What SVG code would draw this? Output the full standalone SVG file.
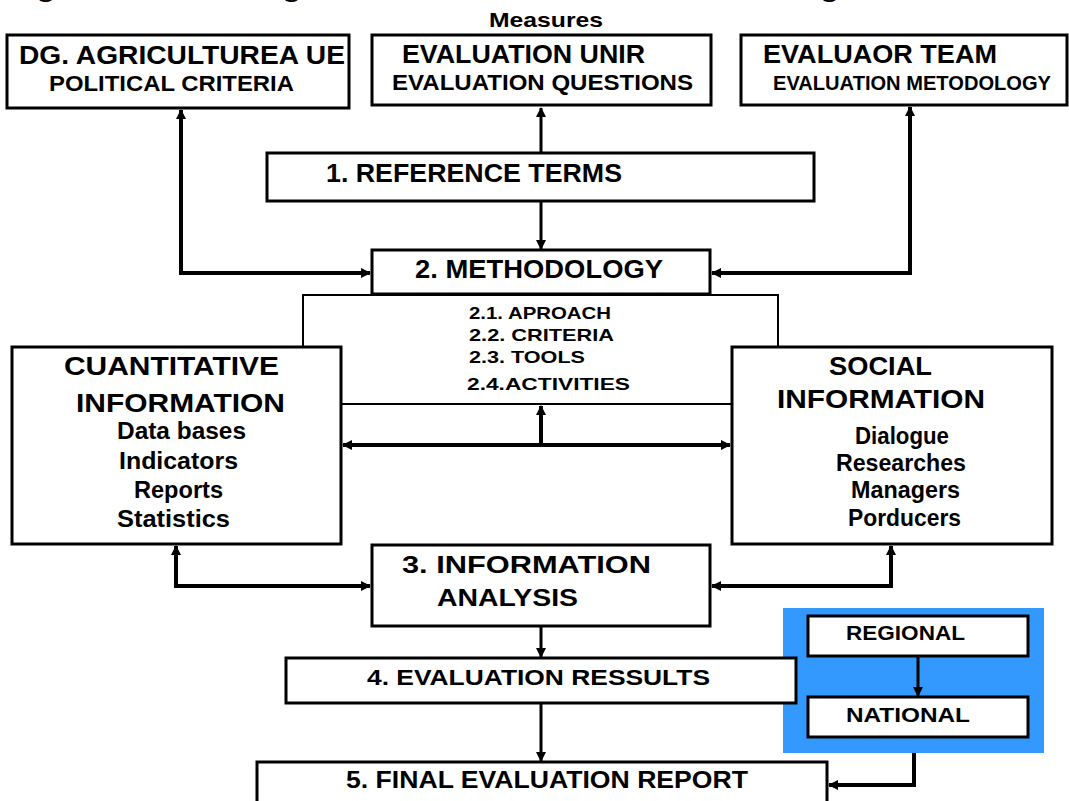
<svg xmlns="http://www.w3.org/2000/svg" width="1069" height="801" viewBox="0 0 1069 801">
<style>
  .box { fill: #ffffff; stroke: #000000; stroke-width: 3; }
  .thin { fill: #ffffff; stroke: #000000; stroke-width: 2; }
  .t { font-family: "Liberation Sans", Arial, sans-serif; fill: #000000; }
  .n { font-weight: bold; }
  .b { font-weight: bold; }
  .c { fill: none; stroke: #000000; stroke-linejoin: miter; }
  .w4 { stroke-width: 4; }
  .w3 { stroke-width: 3; }
</style>
<defs>
  <marker id="ah" viewBox="0 0 10 10" refX="9" refY="5" markerWidth="11" markerHeight="10" markerUnits="userSpaceOnUse" orient="auto-start-reverse">
    <path d="M0,0 L10,5 L0,10 Z" fill="#000000"/>
  </marker>
</defs>
<rect width="1069" height="801" fill="#ffffff"/>

<g id="title">
  <text class="t b" x="12" y="-2" font-size="21" textLength="1050" lengthAdjust="spacingAndGlyphs">Figure 1. Methodological scheme for the evaluation of the Agri-environmental</text>
  <text class="t b" x="489" y="27" font-size="21" textLength="114" lengthAdjust="spacingAndGlyphs">Measures</text>
</g>

<g id="node-sub">
  <rect class="thin" x="303" y="295" width="475" height="109"/>
  <text class="t b" x="469" y="319" font-size="17" textLength="142" lengthAdjust="spacingAndGlyphs">2.1. APROACH</text>
  <text class="t b" x="469" y="341" font-size="17" textLength="145" lengthAdjust="spacingAndGlyphs">2.2. CRITERIA</text>
  <text class="t b" x="469" y="363" font-size="17" textLength="116" lengthAdjust="spacingAndGlyphs">2.3. TOOLS</text>
  <text class="t b" x="467" y="390" font-size="17" textLength="163" lengthAdjust="spacingAndGlyphs">2.4.ACTIVITIES</text>
</g>

<g id="node-dg">
  <rect class="box" x="7" y="35" width="342" height="73"/>
  <text class="t n" x="19" y="64" font-size="26" textLength="326" lengthAdjust="spacingAndGlyphs">DG. AGRICULTUREA UE</text>
  <text class="t n" x="49" y="91" font-size="22" textLength="245" lengthAdjust="spacingAndGlyphs">POLITICAL CRITERIA</text>
</g>

<g id="node-unir">
  <rect class="box" x="372" y="35" width="339" height="70"/>
  <text class="t n" x="402" y="63" font-size="25" textLength="243" lengthAdjust="spacingAndGlyphs">EVALUATION UNIR</text>
  <text class="t n" x="392" y="90" font-size="22" textLength="301" lengthAdjust="spacingAndGlyphs">EVALUATION QUESTIONS</text>
</g>

<g id="node-team">
  <rect class="box" x="741" y="35" width="326" height="70"/>
  <text class="t n" x="763" y="63" font-size="25" textLength="234" lengthAdjust="spacingAndGlyphs">EVALUAOR TEAM</text>
  <text class="t n" x="773" y="90" font-size="21" textLength="278" lengthAdjust="spacingAndGlyphs">EVALUATION METODOLOGY</text>
</g>

<g id="node-ref">
  <rect class="box" x="267" y="153" width="547" height="48"/>
  <text class="t n" x="326" y="182" font-size="26" textLength="296" lengthAdjust="spacingAndGlyphs">1. REFERENCE TERMS</text>
</g>

<g id="node-meth">
  <rect class="box" x="372" y="250" width="338" height="44"/>
  <text class="t n" x="415" y="278" font-size="26" textLength="248" lengthAdjust="spacingAndGlyphs">2. METHODOLOGY</text>
</g>

<g id="node-cuant">
  <rect class="box" x="12" y="347" width="329" height="197"/>
  <text class="t b" x="64" y="375" font-size="26" textLength="215" lengthAdjust="spacingAndGlyphs">CUANTITATIVE</text>
  <text class="t b" x="76" y="412" font-size="26" textLength="209" lengthAdjust="spacingAndGlyphs">INFORMATION</text>
  <text class="t b" x="117" y="439" font-size="23" textLength="129" lengthAdjust="spacingAndGlyphs">Data bases</text>
  <text class="t b" x="119" y="469" font-size="23" textLength="119" lengthAdjust="spacingAndGlyphs">Indicators</text>
  <text class="t b" x="134" y="498" font-size="23" textLength="89" lengthAdjust="spacingAndGlyphs">Reports</text>
  <text class="t b" x="117" y="527" font-size="23" textLength="113" lengthAdjust="spacingAndGlyphs">Statistics</text>
</g>

<g id="node-social">
  <rect class="box" x="732" y="347" width="320" height="197"/>
  <text class="t b" x="829" y="375" font-size="26" textLength="103" lengthAdjust="spacingAndGlyphs">SOCIAL</text>
  <text class="t b" x="777" y="408" font-size="26" textLength="208" lengthAdjust="spacingAndGlyphs">INFORMATION</text>
  <text class="t b" x="855" y="444" font-size="23" textLength="94" lengthAdjust="spacingAndGlyphs">Dialogue</text>
  <text class="t b" x="836" y="471" font-size="23" textLength="130" lengthAdjust="spacingAndGlyphs">Researches</text>
  <text class="t b" x="851" y="498" font-size="23" textLength="109" lengthAdjust="spacingAndGlyphs">Managers</text>
  <text class="t b" x="848" y="526" font-size="23" textLength="113" lengthAdjust="spacingAndGlyphs">Porducers</text>
</g>

<g id="node-analysis">
  <rect class="box" x="372" y="545" width="338" height="81"/>
  <text class="t n" x="402" y="573" font-size="23" textLength="249" lengthAdjust="spacingAndGlyphs">3. INFORMATION</text>
  <text class="t n" x="437" y="606" font-size="23" textLength="141" lengthAdjust="spacingAndGlyphs">ANALYSIS</text>
</g>

<g id="node-levels">
  <rect x="783" y="608" width="261" height="145" fill="#3399ff"/>
  <g id="node-regional">
    <rect class="box" x="808" y="616" width="220" height="40"/>
    <text class="t n" x="846" y="640" font-size="20" textLength="119" lengthAdjust="spacingAndGlyphs">REGIONAL</text>
  </g>
  <g id="node-national">
    <rect class="box" x="808" y="697" width="220" height="40"/>
    <text class="t n" x="846" y="722" font-size="20" textLength="124" lengthAdjust="spacingAndGlyphs">NATIONAL</text>
  </g>
</g>

<g id="node-results">
  <rect class="box" x="286" y="658" width="510" height="45"/>
  <text class="t n" x="367" y="685" font-size="22" textLength="343" lengthAdjust="spacingAndGlyphs">4. EVALUATION RESSULTS</text>
</g>

<g id="node-final">
  <rect class="box" x="257" y="762" width="570" height="50"/>
  <text class="t n" x="346" y="788" font-size="23" textLength="402" lengthAdjust="spacingAndGlyphs">5. FINAL EVALUATION REPORT</text>
</g>

<g id="connectors">
  <path class="c w4" d="M181,110 V273 H370" marker-start="url(#ah)" marker-end="url(#ah)"/>
  <path class="c w4" d="M910,107 V273 H712" marker-start="url(#ah)" marker-end="url(#ah)"/>
  <path class="c w3" d="M541,153 V108" marker-end="url(#ah)"/>
  <path class="c w3" d="M541,202 V249" marker-end="url(#ah)"/>
  <path class="c w4" d="M343,445 H730" marker-start="url(#ah)" marker-end="url(#ah)"/>
  <path class="c w4" d="M541,445 V406" marker-end="url(#ah)"/>
  <path class="c w4" d="M176,546 V586 H370" marker-start="url(#ah)" marker-end="url(#ah)"/>
  <path class="c w4" d="M891,546 V586 H712" marker-start="url(#ah)" marker-end="url(#ah)"/>
  <path class="c w3" d="M541,627 V657" marker-end="url(#ah)"/>
  <path class="c w3" d="M541,704 V761" marker-end="url(#ah)"/>
  <path class="c w3" d="M918,657 V696" marker-end="url(#ah)"/>
  <path class="c w4" d="M914,753 V785 H829" marker-end="url(#ah)"/>
</g>
</svg>
